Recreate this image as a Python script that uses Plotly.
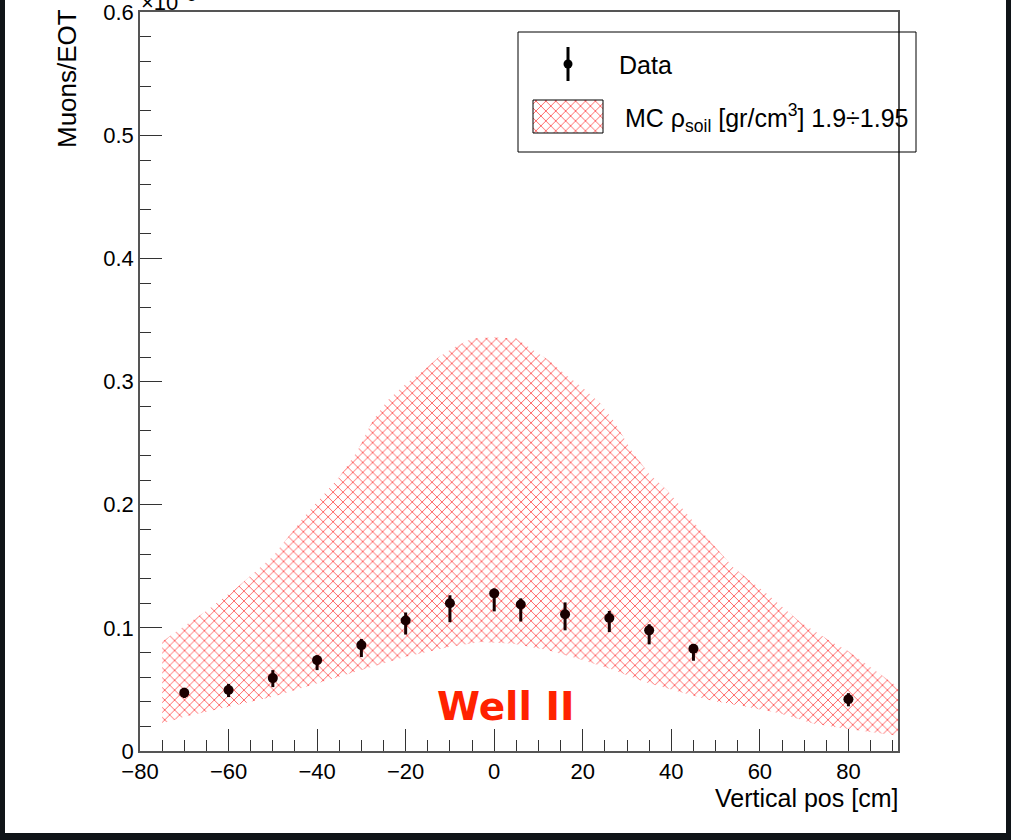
import plotly.graph_objects as go

# ---------------- data ----------------
x_data = [-70, -60, -50, -40, -30, -20, -10, 0, 6, 16, 26, 35, 45, 80]
y_data = [0.0473, 0.0495, 0.0592, 0.0738, 0.0860, 0.1060, 0.1200, 0.1280,
          0.1190, 0.1110, 0.1080, 0.0980, 0.0830, 0.0420]
err_plus = [0.0040, 0.0050, 0.0065, 0.0040, 0.0050, 0.0065, 0.0065, 0.0040,
            0.0050, 0.0097, 0.0057, 0.0050, 0.0025, 0.0050]
err_minus = [0.0043, 0.0057, 0.0073, 0.0081, 0.0097, 0.0114, 0.0154, 0.0146,
             0.0138, 0.0130, 0.0114, 0.0114, 0.0097, 0.0057]

mc_upper_x = [-75, -65, -58, -50, -43, -35, -31, -27.5, -24, -20, -16, -12.5,
              -9, -5, 0, 5, 9, 12.5, 16, 20, 24, 27, 31, 35, 39, 46, 54, 61.5,
              69, 72.5, 76.5, 80, 87, 92]
mc_upper_y = [0.089, 0.114, 0.133, 0.158, 0.190, 0.2225, 0.243, 0.268, 0.285,
              0.298, 0.309, 0.320, 0.328, 0.335, 0.336, 0.335, 0.325, 0.317,
              0.306, 0.295, 0.282, 0.268, 0.244, 0.225, 0.212, 0.182, 0.149,
              0.128, 0.105, 0.097, 0.088, 0.081, 0.063, 0.050]
mc_lower_x = [-75, -70, -60, -50, -40, -30, -20, -10, -3, 0, 4, 12, 19, 27,
              34, 42, 49, 57, 64.5, 72, 79.5, 92]
mc_lower_y = [0.0224, 0.0278, 0.036, 0.044, 0.055, 0.0657, 0.0765, 0.0846,
              0.0885, 0.0880, 0.0873, 0.082, 0.075, 0.0657, 0.056, 0.048,
              0.041, 0.036, 0.0306, 0.0224, 0.018, 0.012]

x_ticks = [-80, -60, -40, -20, 0, 20, 40, 60, 80]
y_ticks = [0, 0.1, 0.2, 0.3, 0.4, 0.5, 0.6]
y_ticktext = ["0", "0.1", "0.2", "0.3", "0.4", "0.5", "0.6"]

x_range = [-80, 91.2]
y_range = [0, 0.6002]

# ---------------- layout geometry ----------------
W, H = 1011, 840
L, R, T, B = 140, 113, 12, 89
PW, PH = W - L - R, H - T - B


def px(x):
    return (x - L) / PW


def py(y):
    return (H - B - y) / PH


RED = "rgba(255,55,55,0.75)"
FONT = "Liberation Sans, Arial, sans-serif"
HATCH = dict(shape="x", fgcolor=RED, bgcolor="white",
             size=7, solidity=0.26, fillmode="replace")

fig = go.Figure()

# MC band (hatched)
fig.add_trace(go.Scatter(
    x=mc_upper_x + mc_lower_x[::-1],
    y=mc_upper_y + mc_lower_y[::-1],
    fill="toself", mode="lines",
    line=dict(width=0, color="rgba(0,0,0,0)"),
    fillcolor="white", fillpattern=HATCH,
    hoverinfo="skip", showlegend=False,
))

# Data points with error bars
fig.add_trace(go.Scatter(
    x=x_data, y=y_data, mode="markers",
    marker=dict(color="#1a0000", size=10),
    error_y=dict(type="data", symmetric=False, array=err_plus,
                 arrayminus=err_minus, color="#1a0000", thickness=3, width=0),
    showlegend=False, name="Data",
))

# ---- legend glyphs on a pixel-space overlay axis pair ----
fig.add_trace(go.Scatter(
    x=[533, 603, 603, 533, 533], y=[100, 100, 133, 133, 100],
    xaxis="x2", yaxis="y2", fill="toself", mode="lines",
    line=dict(color="black", width=1), fillcolor="white",
    fillpattern=HATCH, hoverinfo="skip", showlegend=False,
))
fig.add_trace(go.Scatter(
    x=[568], y=[64], xaxis="x2", yaxis="y2", mode="markers",
    marker=dict(color="black", size=9),
    error_y=dict(type="data", symmetric=False, array=[17], arrayminus=[17],
                 color="black", thickness=3, width=0),
    hoverinfo="skip", showlegend=False,
))

shapes = [
    # legend box
    dict(type="rect", xref="paper", yref="paper",
         x0=px(518), x1=px(916), y0=py(152), y1=py(32),
         line=dict(color="black", width=1), fillcolor="rgba(0,0,0,0)"),
    # dark window border (left, right, bottom)
    dict(type="rect", xref="paper", yref="paper",
         x0=px(0), x1=px(5), y0=py(840), y1=py(0),
         line=dict(width=0), fillcolor="#101418"),
    dict(type="rect", xref="paper", yref="paper",
         x0=px(1006), x1=px(1011), y0=py(840), y1=py(0),
         line=dict(width=0), fillcolor="#101418"),
    dict(type="rect", xref="paper", yref="paper",
         x0=px(0), x1=px(1011), y0=py(840), y1=py(833),
         line=dict(width=0), fillcolor="#101418"),
]

annotations = [
    dict(text="Data", xref="paper", yref="paper", x=px(617), y=py(65),
         xanchor="left", yanchor="middle", showarrow=False,
         font=dict(family=FONT, size=25, color="black")),
    dict(text="MC ρ<sub>soil</sub> [gr/cm<sup>3</sup>] 1.9÷1.95",
         xref="paper", yref="paper", x=px(623), y=py(118),
         xanchor="left", yanchor="middle", showarrow=False,
         font=dict(family=FONT, size=25, color="black")),
    dict(text="Well II", xref="paper", yref="paper", x=px(505), y=py(706),
         xanchor="center", yanchor="middle", showarrow=False,
         font=dict(family="DejaVu Sans, sans-serif", size=39, color="#ff2200",
                   weight="bold")),
    dict(text="Vertical pos [cm]", xref="paper", yref="paper",
         x=px(900), y=py(798), xanchor="right", yanchor="middle",
         showarrow=False, font=dict(family=FONT, size=25, color="black")),
    dict(text="Muons/EOT", xref="paper", yref="paper", x=px(67), y=py(79),
         xanchor="center", yanchor="middle", textangle=-90, showarrow=False,
         font=dict(family=FONT, size=26, color="black")),
    dict(text="×10<sup>−3</sup>", xref="paper", yref="paper", x=px(139),
         y=py(17), xanchor="left", yanchor="bottom", showarrow=False,
         font=dict(family=FONT, size=22, color="black")),
]

axis_common = dict(
    showgrid=False, zeroline=False, showline=True, mirror=True,
    linecolor="#555555", linewidth=1.5, ticks="inside",
    tickcolor="#333333", tickwidth=1.2, automargin=False,
    ticklabeloverflow="allow",
    tickfont=dict(family=FONT, size=22, color="black"),
)

fig.update_layout(
    width=W, height=H,
    margin=dict(l=L, r=R, t=T, b=B, pad=0, autoexpand=False),
    paper_bgcolor="white", plot_bgcolor="white",
    showlegend=False,
    xaxis=dict(range=x_range, tickvals=x_ticks, ticklen=22,
               minor=dict(ticks="inside", dtick=5, ticklen=11,
                          tickcolor="#333333", tickwidth=1.2),
               **axis_common),
    yaxis=dict(range=y_range, tickvals=y_ticks, ticktext=y_ticktext,
               ticklen=22,
               minor=dict(ticks="inside", dtick=0.02, ticklen=11,
                          tickcolor="#333333", tickwidth=1.2),
               **axis_common),
    xaxis2=dict(overlaying="x", range=[L, W - R], visible=False,
                anchor="y2", fixedrange=True, automargin=False),
    yaxis2=dict(overlaying="y", range=[H - B, T], visible=False,
                anchor="x2", fixedrange=True, automargin=False),
    shapes=shapes,
    annotations=annotations,
)

fig.write_html(
    "out.html",
    config={"displayModeBar": False},
    post_script="document.body.style.margin='0px';"
                "document.body.style.overflow='hidden';",
)
